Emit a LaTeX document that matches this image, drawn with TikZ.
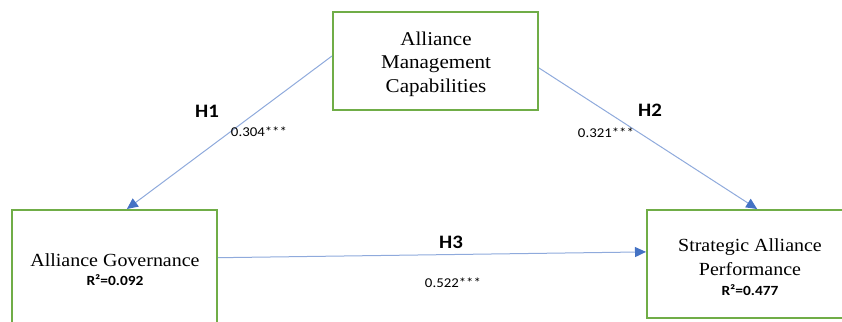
\documentclass[tikz,border=0pt]{standalone}
\usepackage{fontspec}
\setmainfont{Liberation Serif}[FakeStretch=1.08]
\newfontfamily\labelfont{Carlito}[FakeStretch=1.1]
\usetikzlibrary{arrows.meta,calc}
\definecolor{boxgreen}{HTML}{70AD47}
\definecolor{pathline}{HTML}{8FAADC}
\definecolor{tipblue}{HTML}{4472C4}
\begin{document}
\begin{tikzpicture}[x=1pt,y=-1pt,
  construct/.style={draw=boxgreen,line width=2pt,fill=white,inner sep=0pt,minimum width=205pt},
  boxtext/.style={font=\fontsize{18.5}{23.5}\selectfont,align=center,inner sep=0pt},
  rsq/.style={font=\labelfont\bfseries\fontsize{14}{16}\selectfont,inner sep=0pt},
  hyp/.style={font=\labelfont\bfseries\fontsize{19}{22}\selectfont,inner sep=0pt},
  coef/.style={font=\labelfont\fontsize{13.5}{16}\selectfont,inner sep=0pt},
  pathedge/.style={draw=pathline,line width=1pt,-{Triangle[length=11pt,width=10pt,color=tipblue]}}]
\useasboundingbox (0,0) rectangle (842,321);
\clip (0,0) rectangle (842,321);

% constructs
\node[construct,minimum height=98pt] (amc) at (435.5,61) {};
\node[construct,minimum height=140pt] (gov) at (114.5,280) {};
\node[construct,minimum height=108pt] (sap) at (749.5,264) {};

\node[boxtext,font=\fontsize{19.5}{23.5}\selectfont] (amcname) at (436,64) {Alliance\\Management\\Capabilities};
\node[boxtext] (govname) at (115,260) {Alliance Governance};
\node[rsq] (govr) at (115,280) {R²=0.092};
\node[boxtext] (sapname) at (750,257) {Strategic Alliance\\Performance};
\node[rsq] (sapr) at (750,290) {R²=0.477};

% structural paths
\draw[pathedge] ($(amc.north west)!0.45!(amc.south west)$) -- ($(gov.north west)!0.56!(gov.north east)$);
\draw[pathedge] ($(amc.north east)!0.57!(amc.south east)$) -- ($(sap.north west)!0.537!(sap.north east)$);
\draw[pathedge] ($(gov.north east)!0.343!(gov.south east)$) -- ($(sap.north west)!0.39!(sap.south west)$);

% hypotheses and coefficients
\node[hyp] (h1) at (207,111) {H1};
\node[coef] (c1) at (259,132) {0.304***};
\node[hyp] (h2) at (650,110) {H2};
\node[coef] (c2) at (606,133) {0.321***};
\node[hyp] (h3) at (451,242) {H3};
\node[coef] (c3) at (453,283) {0.522***};
\end{tikzpicture}
\end{document}
